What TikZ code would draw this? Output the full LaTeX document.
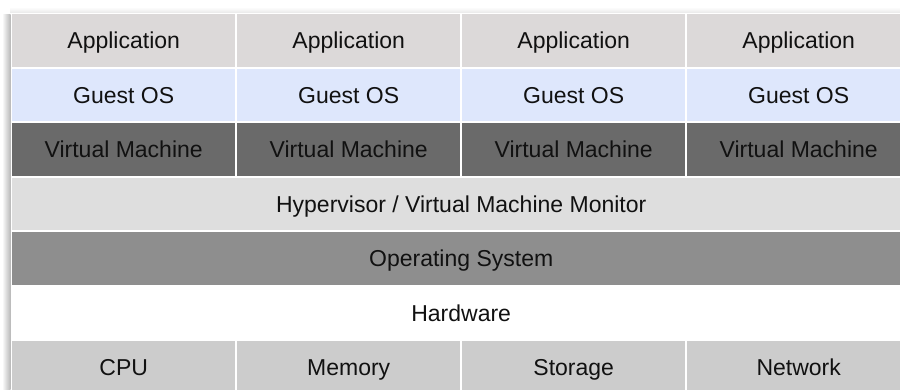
\documentclass[tikz,border=0pt]{standalone}
\usepackage{fontspec}
\setmainfont{Liberation Sans}
\definecolor{appc}{HTML}{DCD9D9}
\definecolor{guestc}{HTML}{DEE7FC}
\definecolor{vmc}{HTML}{6A6A6A}
\definecolor{hypc}{HTML}{DEDEDE}
\definecolor{osc}{HTML}{8E8E8E}
\definecolor{hwc}{HTML}{CCCCCC}
\definecolor{txt}{HTML}{111111}
\tikzset{
  cell/.style={anchor=north west, inner sep=0pt, minimum height=52.5pt,
    text height=16.5pt, text depth=0pt,
    text=txt, font=\fontsize{23}{28}\selectfont},
  col/.style={cell, minimum width=223pt},
  wide/.style={cell, minimum width=898pt}
}
\begin{document}
\begin{tikzpicture}[x=1pt,y=-1pt]
\useasboundingbox (0,0) rectangle (900,389);
\clip (0,0) rectangle (900,389);
\fill[white] (0,0) rectangle (900,389);
% shadows
\shade[left color=white, right color=black!28] (2,14) rectangle (10.5,395);
\shade[top color=white, bottom color=black!8] (10,7) rectangle (910,12.5);
\fill[white] (10.5,12.5) rectangle (912,395);
% rows
\foreach \c/\lab [count=\i from 0] in {a/CPU,b/Memory,c/Storage,d/Network}{
  \node[col, fill=appc]   (app\c) at (12+225*\i,14)    {Application};
  \node[col, fill=guestc] (gos\c) at (12+225*\i,68.5)  {Guest OS};
  \node[col, fill=vmc]    (vm\c)  at (12+225*\i,123)   {Virtual Machine};
  \node[col, fill=hwc]    (hw\c)  at (12+225*\i,340.5) {\lab};
}
\node[wide, fill=hypc]  (hyp) at (12,177.5) {Hypervisor / Virtual Machine Monitor};
\node[wide, fill=osc]   (os)  at (12,232)   {Operating System};
\node[wide, fill=white] (hw)  at (12,286.5) {Hardware};
\end{tikzpicture}
\end{document}
